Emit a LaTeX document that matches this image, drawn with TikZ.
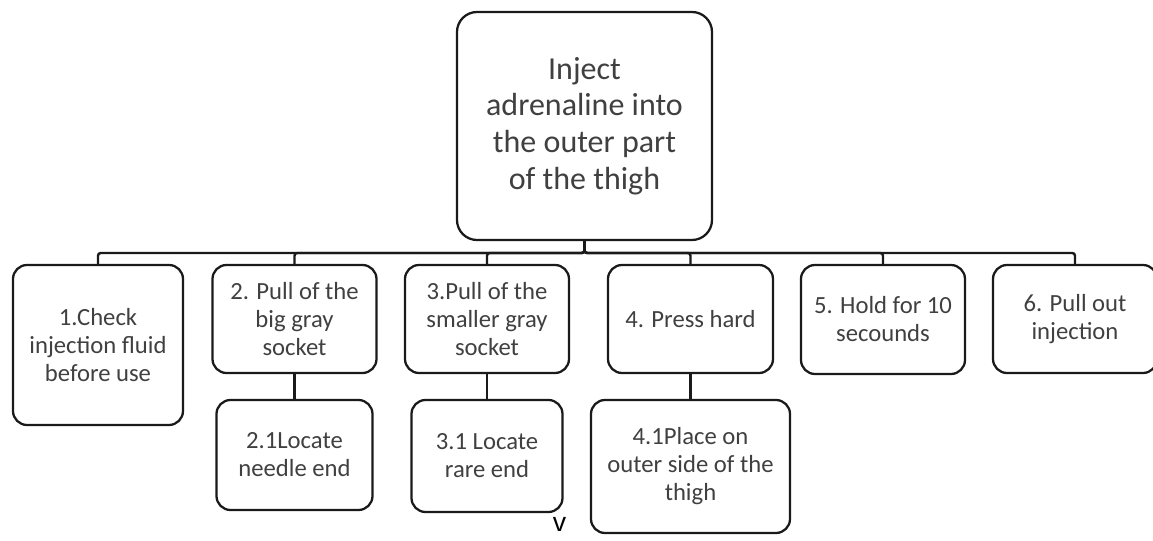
\documentclass[tikz,border=0pt]{standalone}
\usepackage{fontspec}
\setmainfont{Carlito}
\newfontfamily\vfont{Liberation Sans}
\definecolor{txtgray}{HTML}{404040}
\definecolor{linegray}{HTML}{1A1A1A}
\begin{document}
\begin{tikzpicture}[x=0.75pt,y=-0.75pt,
  box/.style={draw=linegray, line width=1.7pt, rounded corners=10.5pt, fill=white,
    inner sep=0pt, outer sep=0pt, align=center, text=txtgray,
    font=\fontsize{18.5}{21}\selectfont},
  topbox/.style={box, rounded corners=15pt, font=\fontsize{24}{27.5}\selectfont},
  conn/.style={draw=linegray, line width=1.8pt, rounded corners=2pt}]
\useasboundingbox (0,0) rectangle (1153,541);
\begin{scope}
\clip (0,0) rectangle (1153,541);
\node[topbox, minimum width=191.25pt, minimum height=171pt] (top) at (584.5,126)
  {Inject\\adrenaline into\\the outer part\\of the thigh};
\node[box, minimum width=127.5pt, minimum height=120pt] (c1) at (98,345)
  {1.Check\\injection fluid\\before use};
\node[box, minimum width=123pt, minimum height=81pt] (c2) at (294.5,319)
  {2. Pull of the\\big gray\\socket};
\node[box, minimum width=117pt, minimum height=82.5pt] (c21) at (294.5,455)
  {2.1Locate\\needle end};
\node[box, minimum width=123pt, minimum height=81pt] (c3) at (487,319)
  {3.Pull of the\\smaller gray\\socket};
\node[box, minimum width=113.25pt, minimum height=84pt] (c31) at (487,456)
  {3.1 Locate\\rare end};
\node[box, minimum width=123.75pt, minimum height=81pt] (c4) at (690.5,319)
  {4. Press hard};
\node[box, minimum width=149.25pt, minimum height=99.75pt] (c41) at (690.5,466.5)
  {4.1Place on\\outer side of the\\thigh};
\node[box, minimum width=123pt, minimum height=81.75pt] (c5) at (883,319.5)
  {5. Hold for 10\\secounds};
\node[box, minimum width=123pt, minimum height=81pt] (c6) at (1075,319)
  {6. Pull out\\injection};
\coordinate (bar) at (584.5,253);
\foreach \c in {c1,c2,c3,c4,c5,c6}{
  \path[conn] (top.south) -- (top.south |- bar) -| (\c.north);
}
\path[conn] (c2.south) -- (c21.north);
\path[conn] (c3.south) -- (c31.north);
\path[conn] (c4.south) -- (c41.north);
\node[anchor=north, inner sep=0pt, text=black, font=\vfont\fontsize{20}{24}\selectfont] (vmark) at (559.5,517) {v};
\end{scope}
\end{tikzpicture}
\end{document}
